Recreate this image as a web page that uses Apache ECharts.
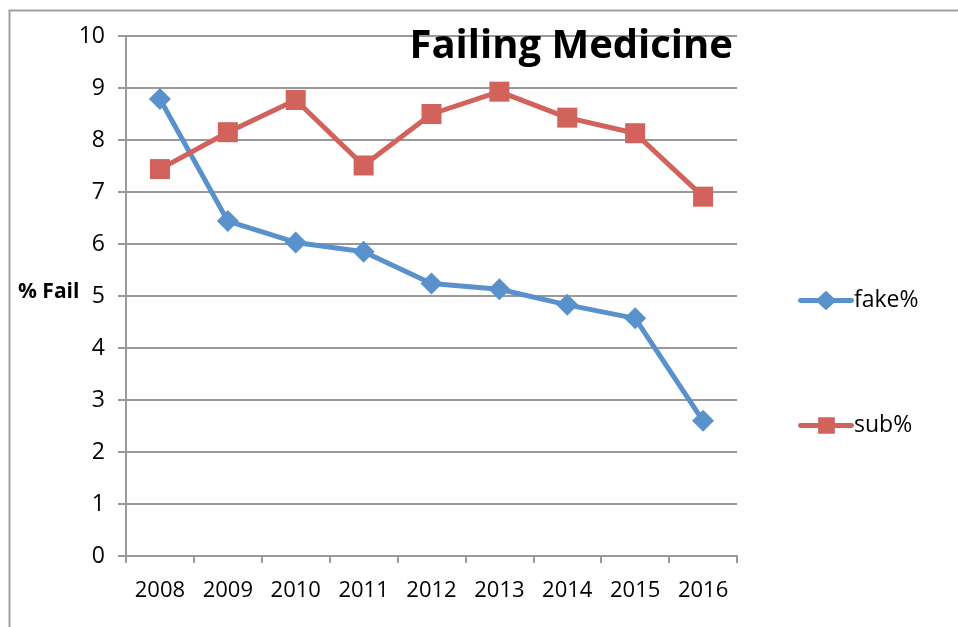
<!DOCTYPE html>
<html>
<head>
<meta charset="utf-8">
<script src="https://cdn.jsdelivr.net/npm/echarts@6/dist/echarts.min.js"></script>
<style>
  html, body { margin: 0; padding: 0; background: #fff; }
  #main { width: 958px; height: 627px; }
</style>
</head>
<body>
<div id="main"></div>
<script>
var years = ['2008', '2009', '2010', '2011', '2012', '2013', '2014', '2015', '2016'];
var fakePct = [8.79, 6.44, 6.03, 5.85, 5.24, 5.13, 4.83, 4.57, 2.60];
var subPct = [7.44, 8.15, 8.77, 7.51, 8.50, 8.93, 8.43, 8.13, 6.91];

var FONT = '"Open Sans", sans-serif';
// legend icons: thick line with marker in the middle (56 x 20 box)
var fakeIcon = 'path://M2,7.5 L20,7.5 L28,0 L36,7.5 L54,7.5 A2.5,2.5 0 0 1 54,12.5 L36,12.5 L28,20 L20,12.5 L2,12.5 A2.5,2.5 0 0 1 2,7.5 Z';
var subIcon = 'path://M2,7.5 L20,7.5 L20,1.5 L37,1.5 L37,7.5 L54,7.5 A2.5,2.5 0 0 1 54,12.5 L37,12.5 L37,18.5 L20,18.5 L20,12.5 L2,12.5 A2.5,2.5 0 0 1 2,7.5 Z';

var chart = echarts.init(document.getElementById('main'));

chart.setOption({
    animation: false,
    backgroundColor: '#fff',
    title: {
        text: 'Failing Medicine',
        right: 220,
        top: 22,
        textStyle: { fontFamily: FONT, fontSize: 40, fontWeight: 'bold', color: '#000' }
    },
    legend: {
        orient: 'vertical',
        left: 793,
        top: 284,
        itemWidth: 56,
        itemHeight: 20,
        itemGap: 102,
        textStyle: { fontFamily: FONT, fontSize: 23, color: '#000', padding: [0, 0, 0, -5] },
        data: [
            { name: 'fake%', icon: fakeIcon },
            { name: 'sub%', icon: subIcon }
        ]
    },
    grid: { left: 126, right: 221, top: 36, bottom: 71 },
    xAxis: {
        type: 'category',
        data: years,
        boundaryGap: true,
        axisLine: { lineStyle: { color: '#999', width: 2 } },
        axisTick: { show: true, interval: 0, length: 7, lineStyle: { color: '#999', width: 2 } },
        axisLabel: { interval: 0, hideOverlap: false, fontFamily: FONT, fontSize: 22, color: '#000', margin: 24 }
    },
    yAxis: {
        type: 'value',
        min: 0,
        max: 10,
        interval: 1,
        axisLine: { show: true, lineStyle: { color: '#999', width: 2 } },
        axisTick: { show: true, inside: false, length: 8, lineStyle: { color: '#999', width: 2 } },
        splitLine: { lineStyle: { color: '#999', width: 2 } },
        axisLabel: { fontFamily: FONT, fontSize: 23, color: '#000', margin: 21 }
    },
    graphic: [
        {
            type: 'rect',
            shape: { x: 9.5, y: 10.5, width: 1200, height: 1200 },
            style: { fill: 'none', stroke: '#a0a0a0', lineWidth: 2 },
            silent: true
        },
        {
            type: 'text',
            left: 18,
            top: 282,
            style: { text: '% Fail', fontFamily: FONT, fontSize: 21, fontWeight: 'bold', fill: '#000' }
        }
    ],
    series: [
        {
            name: 'fake%',
            type: 'line',
            data: fakePct,
            symbol: 'diamond',
            symbolSize: 22,
            lineStyle: { color: '#5891CB', width: 5 },
            itemStyle: { color: '#5891CB' }
        },
        {
            name: 'sub%',
            type: 'line',
            data: subPct,
            symbol: 'rect',
            symbolSize: 20,
            lineStyle: { color: '#D1625C', width: 5 },
            itemStyle: { color: '#D1625C' }
        }
    ]
});
</script>
</body>
</html>
